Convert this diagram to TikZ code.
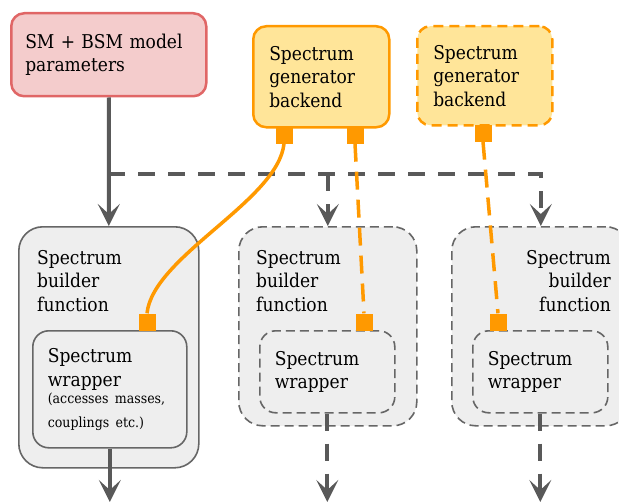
\documentclass[tikz,border=0pt]{standalone}
\usepackage{fontspec}
\setmainfont{DejaVu Serif Condensed}
\usetikzlibrary{shapes,positioning,calc,arrows.meta}
\definecolor{lineGray}{HTML}{595959}
\definecolor{boxGray}{HTML}{666666}
\definecolor{boxFill}{HTML}{EEEEEE}
\definecolor{genOrange}{HTML}{FF9900}
\definecolor{genFill}{HTML}{FFE599}
\definecolor{parRed}{HTML}{E06666}
\definecolor{parFill}{HTML}{F4CCCC}

\begin{document}
\begin{tikzpicture}
  [x=1pt,y=-1pt,
   font=\fontsize{19}{23.5}\selectfont,
   baseBox/.style={draw,anchor=north west,align=left,inner ysep=0pt},
   parN/.style={baseBox,draw=parRed,fill=parFill,line width=2.5pt,rounded corners=13pt,
                inner xsep=14pt,text width=167pt,minimum height=83pt},
   genN/.style={baseBox,draw=genOrange,fill=genFill,line width=2.5pt,rounded corners=13pt,
                inner xsep=16pt,text width=104pt,minimum height=101pt},
   buildN/.style={baseBox,draw=boxGray,fill=boxFill,line width=1.6pt,rounded corners=24pt,
                  minimum width=180pt,minimum height=241pt,inner sep=0pt},
   wrapN/.style={baseBox,draw=boxGray,fill=boxFill,line width=1.6pt,rounded corners=16pt,
                 inner xsep=15pt,text width=105pt,minimum height=82pt},
   boxDash/.style={dash pattern=on 9pt off 5pt},
   titleT/.style={anchor=north west,align=left,inner sep=0pt},
   portN/.style={fill=genOrange,minimum size=17pt,inner sep=0pt},
   flowLine/.style={draw=lineGray,line width=4pt,-{Stealth[length=22pt,width=22pt,inset=10pt]}},
   flowDash/.style={flowLine,dash pattern=on 17pt off 13pt},
   genLine/.style={draw=genOrange,line width=3.5pt},
   genDash/.style={genLine,dash pattern=on 18pt off 10pt},
  ]

 \useasboundingbox (0,0) rectangle (619,503);

 % inputs
 \node[parN] (params) at (10,12) {SM + BSM model\\parameters};
 \node[genN] (gen1) at (252,25) {Spectrum\\generator\\backend};
 \node[genN,boxDash,dash pattern=on 10pt off 6pt,minimum height=99pt,text width=103pt]
      (gen2) at (416,25) {Spectrum\\generator\\backend};

 % builder functions
 \node[buildN] (build1) at (18,226) {};
 \node[buildN,boxDash,minimum width=178pt,minimum height=199pt] (build2) at (238,226) {};
 \node[buildN,boxDash,minimum width=178pt,minimum height=199pt] (build3) at (451,226) {};
 \node[titleT] (build1T) at (37,250) {Spectrum\\builder\\function};
 \node[titleT] (build2T) at (256,250) {Spectrum\\builder\\function};
 \node[titleT,anchor=north east,align=right] (build3T) at (611,250) {Spectrum\\builder\\function};

 % wrappers
 \node[wrapN,text width=124pt,minimum height=117pt] (wrap1) at (32,330)
      {Spectrum\\wrapper\\[-3pt]{\fontsize{14}{20.5}\selectfont(accesses masses,\\couplings etc.)}};
 \node[wrapN,boxDash] (wrap2) at (259,330) {Spectrum\\wrapper};
 \node[wrapN,boxDash] (wrap3) at (472,330) {Spectrum\\wrapper};

 % gray flow
 \coordinate (split) at (108,174);
 \coordinate (bottom) at (0,502);
 \draw[flowLine] (params.south) -- (build1.north);
 \draw[flowDash] (split) -| (build3.north);
 \draw[flowDash] (split -| build2.north) -- (build2.north);
 \draw[flowLine] (wrap1.south) -- (wrap1.south |- bottom);
 \draw[flowDash] (wrap2.south) -- (wrap2.south |- bottom);
 \draw[flowDash] (wrap3.south) -- (wrap3.south |- bottom);

 % backend links
 \node[portN] (gen1PortA) at (284,135) {};
 \node[portN] (gen1PortB) at (355,135) {};
 \node[portN] (gen2Port) at (483,133) {};
 \node[portN] (wrap1Port) at (147,322) {};
 \node[portN] (wrap2Port) at (364,322) {};
 \node[portN] (wrap3Port) at (498,322) {};

 \draw[genLine] (gen1PortA.south) .. controls +(-6,57) and +(6,-57) .. (wrap1Port.north);
 \draw[genDash] (gen1PortB.south) -- (wrap2Port.north);
 \draw[genDash] (gen2Port.south) -- (wrap3Port.north);

\end{tikzpicture}
\end{document}
